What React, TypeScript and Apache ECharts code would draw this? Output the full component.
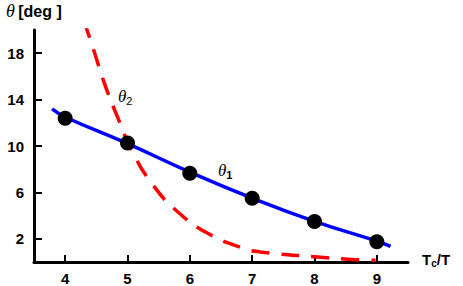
import React, { useEffect, useRef } from "react";
import * as echarts from "echarts";

const xTicks = [4, 5, 6, 7, 8, 9];
const yTicks = [2, 6, 10, 14, 18];
const theta1Points: [number, number][] = [
  [4, 12.4], [5, 10.25], [6, 7.65], [7, 5.5], [8, 3.5], [9, 1.75],
];
const theta1Curve: [number, number][] = [
  [3.79, 13.2], [4, 12.5], [5, 10.2], [6, 7.75], [7, 5.5], [8, 3.5], [9, 1.8], [9.22, 1.35],
];
const theta2Curve: [number, number][] = [
  [4.3, 20.8], [4.45, 18.4], [4.63, 15.4], [4.84, 12.5], [5.08, 9.5], [5.4, 6.7],
  [5.8, 4.35], [6.28, 2.5], [6.85, 1.2], [7.13, 0.87], [8.05, 0.43], [8.66, 0.2], [8.98, 0.15],
];

export default function App() {
  const ref = useRef<HTMLDivElement>(null);
  useEffect(() => {
    const chart = echarts.init(ref.current!, null, { renderer: "svg" });
    const sans = "Liberation Sans";
    const serif = "Liberation Serif";
    chart.setOption({
      animation: false,
      grid: { left: 34, top: 30, right: 55, bottom: 24, containLabel: false },
      xAxis: {
        type: "value",
        min: 3.5,
        max: 9.5,
        splitLine: { show: false },
        axisLine: { lineStyle: { color: "#000", width: 3 } },
        axisTick: { inside: true, length: 7, lineStyle: { color: "#000", width: 2 }, customValues: xTicks },
        axisLabel: { customValues: xTicks, margin: 9, color: "#000", fontFamily: sans, fontWeight: "bold", fontSize: 15 },
      },
      yAxis: {
        type: "value",
        min: 0,
        max: 20,
        splitLine: { show: false },
        axisLine: { lineStyle: { color: "#000", width: 3 } },
        axisTick: { inside: true, length: 8, lineStyle: { color: "#000", width: 2 }, customValues: yTicks },
        axisLabel: { customValues: yTicks, margin: 10, color: "#000", fontFamily: sans, fontWeight: "bold", fontSize: 15 },
      },
      series: [
        {
          type: "line",
          data: theta2Curve,
          smooth: true,
          showSymbol: false,
          clip: true,
          lineStyle: { color: "#ff0000", width: 3.5, type: [18, 12] },
          z: 3,
        },
        {
          type: "line",
          data: theta1Curve,
          smooth: true,
          showSymbol: false,
          lineStyle: { color: "#0000ff", width: 3.5 },
          z: 2,
        },
        {
          type: "scatter",
          data: theta1Points,
          symbol: "circle",
          symbolSize: 15,
          itemStyle: { color: "#000", opacity: 1 },
          z: 4,
        },
      ],
      graphic: [
        {
          type: "text",
          left: 6,
          top: 2,
          style: {
            rich: {
              t: { fontFamily: serif, fontStyle: "italic", fontSize: 18, fill: "#000" },
              d: { fontFamily: sans, fontWeight: "bold", fontSize: 16, fill: "#000" },
            },
            text: "{t|θ} {d|[deg ]}",
          },
        },
        {
          type: "text",
          left: 118,
          top: 88,
          style: {
            rich: {
              t: { fontFamily: serif, fontStyle: "italic", fontSize: 17, fill: "#000" },
              s: { fontFamily: sans, fontSize: 11, fill: "#000", padding: [8, 0, 0, 0] },
            },
            text: "{t|θ}{s|2}",
          },
        },
        {
          type: "text",
          left: 218,
          top: 162,
          style: {
            rich: {
              t: { fontFamily: serif, fontStyle: "italic", fontSize: 17, fill: "#000" },
              s: { fontFamily: sans, fontWeight: "bold", fontSize: 11, fill: "#000", padding: [8, 0, 0, 0] },
            },
            text: "{t|θ}{s|1}",
          },
        },
        {
          type: "text",
          left: 422,
          top: 252,
          style: {
            rich: {
              t: { fontFamily: sans, fontWeight: "bold", fontSize: 15, fill: "#000" },
              s: { fontFamily: sans, fontWeight: "bold", fontSize: 10, fill: "#000", padding: [7, 0, 0, 0] },
            },
            text: "{t|T}{s|c}{t|/T}",
          },
        },
      ],
    });
    return () => chart.dispose();
  }, []);
  return <div ref={ref} style={{ width: 463, height: 286, position: "absolute", left: 0, top: 0 }} />;
}
